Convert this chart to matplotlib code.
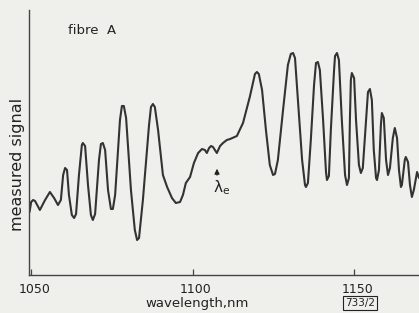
import matplotlib
matplotlib.use("Agg")
import matplotlib.pyplot as plt
import matplotlib.transforms as mtransforms

# ---- data (signal in arbitrary units) ----
wavelength = [
    1049.5, 1050.0, 1050.6, 1051.2, 1052.7, 1054.3, 1055.8, 1057.1, 1058.3, 1059.2,
    1059.9, 1060.5, 1061.1, 1061.7, 1062.6, 1063.3, 1063.9, 1064.8, 1065.7, 1066.0,
    1066.7, 1067.6, 1068.5, 1069.1, 1069.8, 1071.0, 1071.6, 1072.2, 1072.9, 1073.8,
    1074.7, 1075.3, 1076.0, 1077.5, 1078.1, 1078.7, 1079.4, 1080.9, 1082.1, 1082.8,
    1083.4, 1084.6, 1086.5, 1087.1, 1087.7, 1088.3, 1089.3, 1090.8, 1092.1, 1093.6,
    1094.8, 1096.1, 1097.0, 1097.9, 1099.2, 1100.4, 1101.7, 1102.9, 1103.8, 1104.4,
    1105.1, 1105.7, 1106.3, 1107.5, 1108.5, 1109.4, 1110.6, 1111.6, 1113.7, 1115.6,
    1117.7, 1119.3, 1119.9, 1120.5, 1121.5, 1122.7, 1123.9, 1124.9, 1125.5, 1126.4,
    1128.0, 1129.5, 1130.4, 1131.1, 1131.7, 1132.6, 1133.9, 1134.8, 1135.1, 1135.7,
    1136.6, 1137.6, 1138.2, 1138.8, 1139.4, 1140.4, 1141.3, 1141.6, 1142.2, 1142.8,
    1143.8, 1144.1, 1144.7, 1145.3, 1146.2, 1147.2, 1147.8, 1148.4, 1148.7, 1149.0,
    1149.3, 1150.0, 1150.6, 1151.5, 1152.1, 1152.7, 1153.7, 1154.3, 1154.9, 1155.5,
    1156.1, 1156.8, 1157.1, 1157.7, 1158.3, 1158.6, 1159.2, 1159.9, 1160.5, 1161.1,
    1162.0, 1162.6, 1163.3, 1163.9, 1164.5, 1164.8, 1165.7, 1166.0, 1166.7, 1167.3,
    1167.9, 1168.5, 1169.5, 1170.1,
]
signal = [
    6.3, 7.3, 7.5, 7.4, 6.5, 7.5, 8.3, 7.7, 7.0, 7.5,
    10.0, 10.7, 10.5, 8.0, 6.0, 5.7, 6.1, 10.0, 13.0, 13.2,
    12.9, 9.0, 6.0, 5.5, 6.1, 11.5, 13.1, 13.2, 12.5, 8.5,
    6.6, 6.6, 8.0, 15.5, 16.9, 16.9, 15.7, 8.5, 4.5, 3.5,
    3.7, 7.5, 15.0, 16.8, 17.1, 16.8, 14.5, 10.0, 8.8, 7.7,
    7.2, 7.3, 8.0, 9.2, 9.8, 11.2, 12.2, 12.6, 12.5, 12.2,
    12.7, 12.9, 12.8, 12.2, 12.9, 13.2, 13.5, 13.6, 13.9, 15.2,
    17.8, 20.1, 20.3, 20.1, 18.5, 14.5, 11.0, 10.0, 10.1, 11.5,
    16.5, 21.0, 22.1, 22.2, 21.7, 17.5, 11.5, 9.0, 8.8, 9.2,
    13.5, 19.0, 21.2, 21.3, 20.5, 15.5, 10.3, 9.5, 9.9, 14.5,
    20.5, 21.9, 22.2, 21.5, 15.5, 10.0, 9.0, 9.7, 15.5, 19.5,
    20.2, 19.7, 15.5, 11.0, 10.2, 10.7, 15.5, 18.3, 18.6, 17.5,
    12.5, 9.7, 9.5, 10.5, 15.0, 16.2, 15.7, 11.5, 10.0, 10.7,
    13.7, 14.7, 13.7, 10.5, 8.8, 9.0, 11.5, 11.8, 11.3, 9.0,
    7.8, 8.5, 10.3, 9.7,
]
x_ticks = [1050, 1100, 1150]
x_tick_labels = ["1050", "1100", "1150"]

plt.rcParams["mathtext.default"] = "regular"

W, H = 419, 313
bg = "#efefec"
ink = "#333333"

fig = plt.figure(figsize=(W / 100, H / 100), dpi=100, facecolor=bg)
ax = fig.add_axes([29 / W, (H - 275) / H, (W - 29) / W, 265 / H])
ax.set_facecolor(bg)

ax.plot(wavelength, signal, color=ink, lw=1.5, solid_joinstyle="round",
        solid_capstyle="round")

ax.set_xlim(1049.33, 1170.1)
ax.set_ylim(0, 26.5)

for s in ["top", "right"]:
    ax.spines[s].set_visible(False)
for s in ["left", "bottom"]:
    ax.spines[s].set_color("#444444")
    ax.spines[s].set_linewidth(1.0)

ax.set_yticks([])
ax.set_xticks(x_ticks)
ax.set_xticklabels(x_tick_labels)
ax.tick_params(axis="x", direction="in", length=4, width=0.9, color="#444444",
               pad=6, labelsize=9, labelcolor="#222222")
shift = mtransforms.ScaledTranslation(3 / 100, 0, fig.dpi_scale_trans)
for lbl in ax.get_xticklabels():
    lbl.set_transform(lbl.get_transform() + shift)

fig.text(197 / W, 1 - 303 / H, "wavelength,nm", ha="center", va="center",
         fontsize=9.5, color="#222222")
fig.text(18 / W, 1 - 164 / H, "measured signal", ha="center", va="center",
         rotation=90, fontsize=11.5, color="#222222")
fig.text(92 / W, 1 - 30 / H, "fibre  A", ha="center", va="center",
         fontsize=9.5, color="#222222")
fig.text(360 / W, 1 - 303 / H, "733/2", ha="center", va="center",
         fontsize=7.5, color="#222222",
         bbox=dict(boxstyle="square,pad=0.15", fc="none", ec="#222222", lw=0.8))

# lambda_e marker
fig.add_artist(matplotlib.patches.FancyArrowPatch(
    (217 / W, 1 - 178 / H), (217 / W, 1 - 166 / H), transform=fig.transFigure,
    arrowstyle="-|>,head_length=3,head_width=1.5", color="#222222", lw=0.8,
    mutation_scale=1))
fig.text(222 / W, 1 - 188 / H, r"$\lambda_e$", ha="center", va="center",
         fontsize=11, color="#222222")

fig.savefig("out.png", dpi=100, facecolor=bg)
